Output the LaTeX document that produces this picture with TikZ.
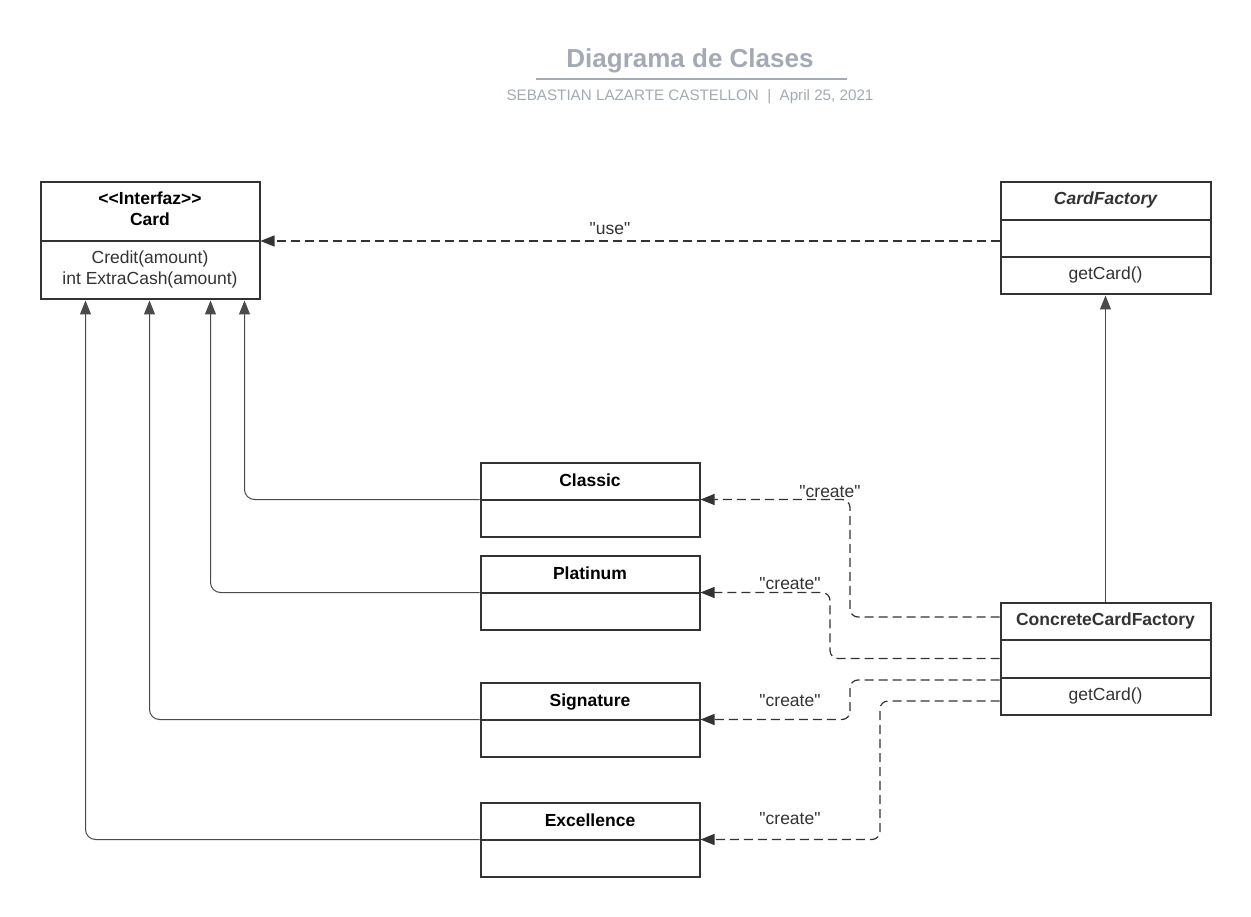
\documentclass[tikz,border=0pt]{standalone}
\usepackage{fontspec}
\setmainfont{Liberation Sans}[Ligatures=TeXOff]
\usetikzlibrary{arrows.meta,calc}
\definecolor{boxc}{HTML}{333333}
\definecolor{titc}{HTML}{A4AAB5}
\definecolor{linec}{HTML}{4A4A4A}
\definecolor{txtc}{HTML}{333333}
\begin{document}
\begin{tikzpicture}[x=1pt,y=-1pt,
  box/.style={draw=boxc, line width=2pt, inner sep=0pt},
  divider/.style={draw=boxc, line width=2pt},
  hdr/.style={font=\bfseries\fontsize{17.5}{21}\selectfont, text=black, anchor=base, inner sep=0pt},
  hdrit/.style={font=\bfseries\itshape\fontsize{17.5}{21}\selectfont, text=txtc, anchor=base, inner sep=0pt},
  mth/.style={font=\fontsize{17.5}{21}\selectfont, text=txtc, anchor=base, inner sep=0pt},
  lbl/.style={font=\fontsize{17.5}{21}\selectfont, text=txtc, anchor=base, inner sep=0pt},
  gen/.style={draw=linec, line width=1pt, rounded corners=10pt, -{Triangle[length=14pt,width=11pt]}},
  dep/.style={draw=boxc, line width=1.2pt, dash pattern=on 9pt off 5pt, rounded corners=8pt, -{Triangle[length=14pt,width=11pt]}},
]
\useasboundingbox (0,0) rectangle (1251,917);
\fill[white] (0,0) rectangle (1251,917);

% title
\node[font=\bfseries\fontsize{26}{30}\selectfont, text=titc, anchor=base, inner sep=0pt] (title) at (690,68) {Diagrama de Clases};
\draw[titc, line width=2pt] (536,79) -- (847,79);
\node[font=\fontsize{15.2}{18}\selectfont, text=titc, anchor=base, inner sep=0pt] (subtitle) at (690,100.5) {SEBASTIAN LAZARTE CASTELLON~~|~~April 25, 2021};

% boxes
\node[box, minimum width=219pt, minimum height=117pt] (card) at (150,241) {};
\draw[divider] (card.west) -- (card.east);
\node[hdr] (cardst) at (150,205) {<\kern0pt<Interfaz>\kern0pt>};
\node[hdr] (cardname) at (150,226) {Card};
\node[mth] (cardm1) at (150,264) {Credit(amount)};
\node[mth] (cardm2) at (150,285) {int ExtraCash(amount)};

\node[box, minimum width=210pt, minimum height=112pt] (cf) at (1105.5,238.5) {};
\draw[divider] ([yshift=18.5pt]cf.west) -- ([yshift=18.5pt]cf.east);
\draw[divider] ([yshift=-18.5pt]cf.west) -- ([yshift=-18.5pt]cf.east);
\node[hdrit] (cfname) at (1105.5,205) {CardFactory};
\node[mth] (cfm) at (1105.5,280) {getCard()};

\node[box, minimum width=210pt, minimum height=112pt] (ccf) at (1105.5,658.5) {};
\draw[divider] ([yshift=18.5pt]ccf.west) -- ([yshift=18.5pt]ccf.east);
\draw[divider] ([yshift=-19.5pt]ccf.west) -- ([yshift=-19.5pt]ccf.east);
\node[hdr, text=txtc] (ccfname) at (1105.5,625) {ConcreteCardFactory};
\node[mth] (ccfm) at (1105.5,700) {getCard()};

\node[box, minimum width=219pt, minimum height=74pt] (classic) at (590,499.5) {};
\draw[divider] (classic.west) -- (classic.east);
\node[hdr] (classicname) at (590,486) {Classic};

\node[box, minimum width=219pt, minimum height=74pt] (platinum) at (590,592.5) {};
\draw[divider] (platinum.west) -- (platinum.east);
\node[hdr] (platinumname) at (590,579) {Platinum};

\node[box, minimum width=219pt, minimum height=74pt] (signature) at (590,719.5) {};
\draw[divider] (signature.west) -- (signature.east);
\node[hdr] (signaturename) at (590,706) {Signature};

\node[box, minimum width=219pt, minimum height=74pt] (excellence) at (590,839.5) {};
\draw[divider] (excellence.west) -- (excellence.east);
\node[hdr] (excellencename) at (590,826) {Excellence};

% generalizations
\draw[gen] (classic.west) -| ([xshift=205pt]card.south west);
\draw[gen] (platinum.west) -| ([xshift=171pt]card.south west);
\draw[gen] (signature.west) -| ([xshift=110pt]card.south west);
\draw[gen] (excellence.west) -| ([xshift=46pt]card.south west);
\draw[gen] (ccf.north) -- (cf.south);

% dependencies
\draw[dep] (cf.west |- card.east) -- (card.east);
\node[lbl] (use) at (610,235) {"use"};

\coordinate (k1) at (850,0);
\coordinate (k2) at (830,0);
\coordinate (k3) at (850,0);
\coordinate (k4) at (880,0);
\draw[dep] ([yshift=41.5pt]ccf.west) -| (k1 |- classic.east) -- (classic.east);
\draw[dep] (ccf.west) -| (k2 |- platinum.east) -- (platinum.east);
\draw[dep] ([yshift=-21.5pt]ccf.west) -| (k3 |- signature.east) -- (signature.east);
\draw[dep] ([yshift=-42.5pt]ccf.west) -| (k4 |- excellence.east) -- (excellence.east);
\node[lbl] (c1) at (830,497) {"create"};
\node[lbl] (c2) at (790,589) {"create"};
\node[lbl] (c3) at (790,706) {"create"};
\node[lbl] (c4) at (790,824) {"create"};
\end{tikzpicture}
\end{document}
